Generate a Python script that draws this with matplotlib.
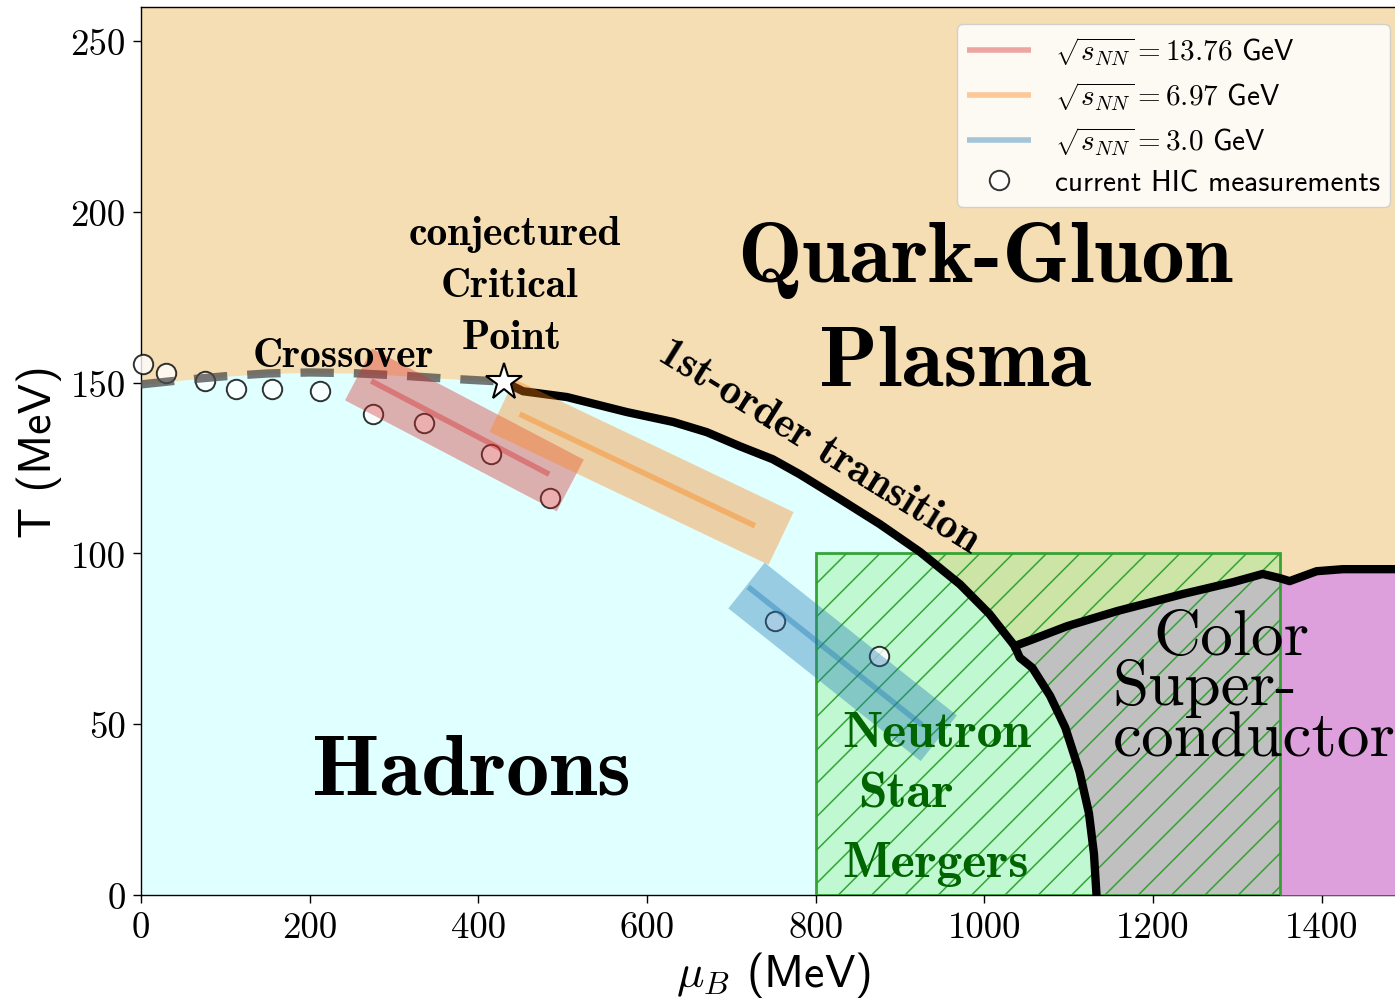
import numpy as np
import matplotlib
matplotlib.use("Agg")
import matplotlib.pyplot as plt
from matplotlib.patches import Rectangle, Polygon

plt.rcParams['font.family'] = ['cmss10', 'DejaVu Sans']
plt.rcParams['mathtext.fontset'] = 'cm'
plt.rcParams['axes.unicode_minus'] = False
plt.rcParams['hatch.linewidth'] = 1.1

# ---------------- data ----------------
# crossover line (mu_B, T) up to the critical point
cross_mu = np.array([0, 50, 100, 150, 200, 250, 300, 350, 400, 430])
cross_T = np.array([149.5, 150.8, 151.9, 152.7, 153.0, 152.8, 152.2, 151.4, 150.7, 150.3])

# first-order transition line
fo_mu = np.array([430, 453, 505, 576, 631, 671, 710, 749, 781, 829, 876, 924, 971,
                  1006, 1036, 1042, 1057, 1078, 1096, 1113, 1124, 1130, 1133])
fo_T = np.array([150.3, 147.5, 145.8, 141.4, 138.5, 135.5, 131.4, 127.6, 123.2, 115.9,
                 108.6, 100.4, 91.0, 82.3, 72.9, 69.5, 66.5, 58.3, 49.0, 36.0, 24.0, 12.0, 0.0])
kink_mu = 1036

# colour-superconductor upper boundary
csc_mu = np.array([1036, 1058, 1098, 1157, 1235, 1295, 1330, 1350, 1362, 1394, 1425, 1500])
csc_T = np.array([72.9, 74.9, 78.7, 83.1, 88.1, 91.6, 94.0, 92.8, 91.9, 94.8, 95.4, 95.4])
csc_edge = 1350

# neutron star merger window
nsm_mu = [800, 1350]
nsm_T = [0, 100]

# critical point
cp_mu, cp_T = 430, 150.3

# current HIC measurements
hic_mu = np.array([2, 30, 76, 113, 155, 212, 275, 335, 415, 485, 752, 875])
hic_T = np.array([155.4, 152.8, 150.5, 148.1, 148.1, 147.5, 140.8, 138.2, 129.1, 116.1, 80.3, 70.0])

# beam-energy trajectories: band range and central line
energies = ['13.76', '6.97', '3.0']
band_colors = ['tab:red', 'tab:orange', 'tab:blue']
band_mu = [[258, 509], [428, 759], [718, 946]]
band_T = [[152.4, 119.9], [143.3, 104.4], [90.6, 45.9]]
line_mu = [[273, 484], [449, 728], [720, 926]]
line_T = [[150.5, 123.2], [140.8, 108.1], [90.2, 49.8]]

mu_ticks = [0, 200, 400, 600, 800, 1000, 1200, 1400]
T_ticks = [0, 50, 100, 150, 200, 250]

# ---------------- figure ----------------
W, H = 1395, 1004
fig = plt.figure(figsize=(W / 100, H / 100), dpi=100)
ax = fig.add_axes([141 / W, 108 / H, 1265 / W, 888 / H])
ax.set_xlim(0, 1500)
ax.set_ylim(0, 260)
ax.set_facecolor('wheat')

# hadron region
bound_mu = np.concatenate([cross_mu, fo_mu[1:]])
bound_T = np.concatenate([cross_T, fo_T[1:]])
ax.fill_between(bound_mu, 0, bound_T, color='lightcyan', lw=0, zorder=1)

# NSM face
ax.add_patch(Rectangle((nsm_mu[0], nsm_T[0]), nsm_mu[1] - nsm_mu[0], nsm_T[1] - nsm_T[0],
                       facecolor='lightgreen', alpha=0.4, lw=0, zorder=2))

# colour superconductor (grey) and plum region
k = np.where(fo_mu == kink_mu)[0][0]
sel = csc_mu <= csc_edge
gx = np.concatenate([fo_mu[k:], [csc_edge], csc_mu[sel][::-1]])
gy = np.concatenate([fo_T[k:], [0], csc_T[sel][::-1]])
ax.add_patch(Polygon(np.column_stack([gx, gy]), closed=True, facecolor='silver', lw=0, zorder=3))
sel2 = csc_mu >= csc_edge
ax.fill_between(csc_mu[sel2], 0, csc_T[sel2], color='plum', lw=0, zorder=3)

# NSM hatch + outline
ax.add_patch(Rectangle((nsm_mu[0], nsm_T[0]), nsm_mu[1] - nsm_mu[0], nsm_T[1] - nsm_T[0],
                       facecolor='none', edgecolor='#2ca02c', hatch='/', lw=2, alpha=0.95, zorder=4))

# HIC measurements
ax.plot(hic_mu, hic_T, 'o', ms=14, mfc=(1, 1, 1, 0.8), mec=(0, 0, 0, 0.8), mew=1.4,
        zorder=4.5, label='current HIC measurements', clip_on=False)

# transition lines
ax.plot(fo_mu, fo_T, color='black', lw=6, solid_joinstyle='round', zorder=5)
ax.plot(csc_mu, csc_T, color='black', lw=6, solid_joinstyle='round', zorder=5)
ax.plot(cross_mu, cross_T, color='#4a4a4a', alpha=0.75, lw=6, ls=(0, (4, 2.4)), zorder=5.5)

# bands
handles = []
for e, c, bm, bt, lm, lt in zip(energies, band_colors, band_mu, band_T, line_mu, line_T):
    ax.plot(bm, bt, color=c, alpha=0.37, lw=42, solid_capstyle='butt', zorder=6)
    h, = ax.plot(lm, lt, color=c, alpha=0.4, lw=4, solid_capstyle='butt', zorder=6.5,
                 label=r'$\sqrt{s_{NN}} = %s$ GeV' % e)
    handles.append(h)

# critical point
ax.plot([cp_mu], [cp_T], marker='*', ms=28, mfc='white', mec='black', mew=1.5, zorder=8)

# texts
bold = 'cmb10'
ax.text(1000, 179.7, 'Quark-Gluon', fontfamily=bold, fontsize=62, ha='center', va='baseline', zorder=9)
ax.text(965, 149.6, 'Plasma', fontfamily=bold, fontsize=62, ha='center', va='baseline', zorder=9)
ax.text(392, 29.6, 'Hadrons', fontfamily=bold, fontsize=62, ha='center', va='baseline', zorder=9)
ax.text(239.5, 154.9, 'Crossover', fontfamily=bold, fontsize=30, ha='center', va='baseline', zorder=9)
ax.text(443, 190.6, 'conjectured', fontfamily=bold, fontsize=30, ha='center', va='baseline', zorder=9)
ax.text(437, 175.4, 'Critical', fontfamily=bold, fontsize=30, ha='center', va='baseline', zorder=9)
ax.text(440, 160.1, 'Point', fontfamily=bold, fontsize=30, ha='center', va='baseline', zorder=9)
ax.text(804, 131.2, '1st-order transition', fontfamily=bold, fontsize=31, ha='center', va='center',
        rotation=-31.8, rotation_mode='anchor', zorder=9)
ax.text(832, 43.7, 'Neutron', fontfamily=bold, fontsize=37, color='darkgreen', ha='left', va='baseline', zorder=9)
ax.text(850, 25.8, 'Star', fontfamily=bold, fontsize=37, color='darkgreen', ha='left', va='baseline', zorder=9)
ax.text(832, 5.6, 'Mergers', fontfamily=bold, fontsize=37, color='darkgreen', ha='left', va='baseline', zorder=9)
ax.text(1201, 70.5, 'Color', fontfamily='cmr10', fontsize=47, ha='left', va='baseline', zorder=9)
ax.text(1152, 55.9, 'Super-', fontfamily='cmr10', fontsize=47, ha='left', va='baseline', zorder=9)
ax.text(1152, 40.7, 'conductor', fontfamily='cmr10', fontsize=47, ha='left', va='baseline', zorder=9)

# axes styling
ax.set_xticks(mu_ticks)
ax.set_yticks(T_ticks)
ax.set_xticklabels([str(t) for t in mu_ticks], fontfamily='cmr10', fontsize=26.5)
ax.set_yticklabels([str(t) for t in T_ticks], fontfamily='cmr10', fontsize=26.5)
ax.tick_params(direction='out', length=6, width=1, pad=5)
ax.set_xlabel(r'$\mu_B$ (MeV)', fontsize=33, labelpad=4)
ax.set_ylabel('T (MeV)', fontsize=33, labelpad=6)
for s in ax.spines.values():
    s.set_linewidth(1.0)

leg = ax.legend(handles=handles + [ax.lines[0]], loc='upper right',
                bbox_to_anchor=(1390 / W, 1 - 25 / H), bbox_transform=fig.transFigure,
                borderaxespad=0, fontsize=21, handlelength=2.2, handletextpad=0.8,
                labelspacing=0.42, framealpha=0.85, edgecolor='0.8', fancybox=True, borderpad=0.35)
leg.set_zorder(10)

fig.savefig('out.png', dpi=100)
